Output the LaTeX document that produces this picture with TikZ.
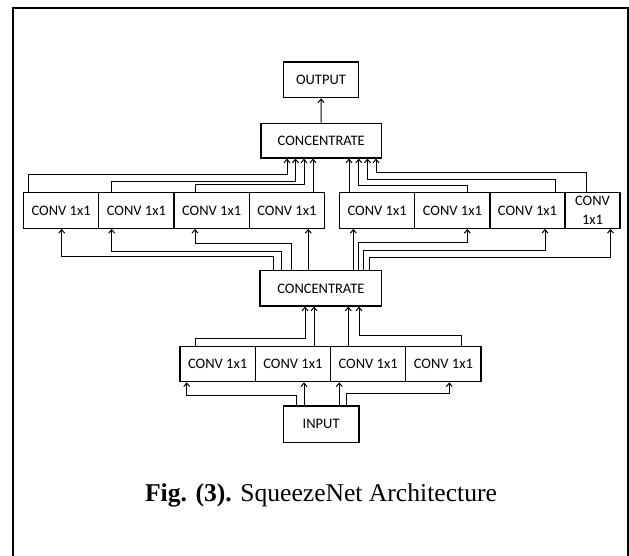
\documentclass[tikz,border=0pt]{standalone}
\usepackage{fontspec}
\setmainfont{Liberation Serif}
\newfontfamily\boxfont{Carlito}
\usetikzlibrary{arrows.meta}
\begin{document}
\begin{tikzpicture}[x=1pt,y=-1pt,
  blk/.style={draw,line width=1.2pt,inner sep=0pt,font=\boxfont\fontsize{14.5}{19}\selectfont,align=center},
  cv/.style={blk,minimum width=75.25pt,minimum height=35.6pt},
  arr/.style={line width=1pt,-{Straight Barb[length=3.5pt,width=6pt]}},
  ln/.style={line width=1pt}]
\useasboundingbox (0,0) rectangle (629,555);
% frame
\draw[line width=2pt] (13,556) -- (13,7.7) -- (627.7,7.7) -- (627.7,556);
% boxes
\node[blk,minimum width=75pt,minimum height=35.7pt] (out) at (321,79.9) {OUTPUT};
\node[blk,minimum width=120.5pt,minimum height=34.7pt] (ctop) at (321.25,140.65) {CONCENTRATE};
\node[cv] (t1) at (61.125,210.5) {CONV 1x1};
\node[cv] (t2) at (136.375,210.5) {CONV 1x1};
\node[cv] (t3) at (211.625,210.5) {CONV 1x1};
\node[cv] (t4) at (286.875,210.5) {CONV 1x1};
\node[cv] (t5) at (377.125,210.5) {CONV 1x1};
\node[cv] (t6) at (452.375,210.5) {CONV 1x1};
\node[cv,minimum width=75pt] (t7) at (527.5,210.5) {CONV 1x1};
\node[cv,minimum width=55pt] (t8) at (592.5,210.5) {CONV\\1x1};
\node[blk,minimum width=121.7pt,minimum height=35.3pt] (cmid) at (320.85,288.35) {CONCENTRATE};
\node[cv,minimum height=35.5pt] (b1) at (217.625,364) {CONV 1x1};
\node[cv,minimum height=35.5pt] (b2) at (292.875,364) {CONV 1x1};
\node[cv,minimum height=35.5pt] (b3) at (368.125,364) {CONV 1x1};
\node[cv,minimum height=35.5pt] (b4) at (443.375,364) {CONV 1x1};
\node[blk,minimum width=75.7pt,minimum height=36.3pt] (inp) at (321.15,424.15) {INPUT};
\node[anchor=base,font=\fontsize{25.6}{30}\selectfont,inner sep=0pt] (cap) at (321,501.7) {\textbf{Fig. (3).} SqueezeNet Architecture};
% concentrate -> output
\draw[arr] (ctop) -- (out);
% top row -> top concentrate
\draw[arr] (28,0 |- t1.north) |- (287,174.5) -- (287,0 |- ctop.south);
\draw[arr] (111.5,0 |- t2.north) |- (295.5,181) -- (295.5,0 |- ctop.south);
\draw[arr] (195.5,0 |- t3.north) |- (304,184.8) -- (304,0 |- ctop.south);
\draw[arr] (313,0 |- t4.north) -- (313,0 |- ctop.south);
\draw[arr] (349,0 |- t5.north) -- (349,0 |- ctop.south);
\draw[arr] (467.3,0 |- t6.north) |- (358.8,185) -- (358.8,0 |- ctop.south);
\draw[arr] (555.3,0 |- t7.north) |- (367.5,179.3) -- (367.5,0 |- ctop.south);
\draw[arr] (586.5,0 |- t8.north) |- (376,172) -- (376,0 |- ctop.south);
% middle concentrate -> top row
\draw[arr] (273.3,0 |- cmid.north) |- (61.7,256.7) -- (61.7,0 |- t1.south);
\draw[arr] (281,0 |- cmid.north) |- (111.7,251.7) -- (111.7,0 |- t2.south);
\draw[arr] (291,0 |- cmid.north) |- (195,243.3) -- (195,0 |- t3.south);
\draw[arr] (308.3,0 |- cmid.north) -- (308.3,0 |- t4.south);
\draw[arr] (353.3,0 |- cmid.north) -- (353.3,0 |- t5.south);
\draw[arr] (358.3,0 |- cmid.north) |- (467.3,242.7) -- (467.3,0 |- t6.south);
\draw[arr] (363.3,0 |- cmid.north) |- (545,250) -- (545,0 |- t7.south);
\draw[arr] (369.3,0 |- cmid.north) |- (610.5,257.7) -- (610.5,0 |- t8.south);
% bottom row -> middle concentrate
\draw[arr] (195,0 |- b1.north) |- (305,338.3) -- (305,0 |- cmid.south);
\draw[arr] (314,0 |- b2.north) -- (314,0 |- cmid.south);
\draw[arr] (348.3,0 |- b3.north) -- (348.3,0 |- cmid.south);
\draw[arr] (461.7,0 |- b4.north) |- (359,335.5) -- (359,0 |- cmid.south);
% input -> bottom row
\draw[arr] (296,0 |- inp.north) |- (186.7,395) -- (186.7,0 |- b1.south);
\draw[arr] (304,0 |- inp.north) -- (304,0 |- b2.south);
\draw[arr] (339.3,0 |- inp.north) -- (339.3,0 |- b3.south);
\draw[arr] (346,0 |- inp.north) |- (449.3,393.3) -- (449.3,0 |- b4.south);
\end{tikzpicture}
\end{document}
